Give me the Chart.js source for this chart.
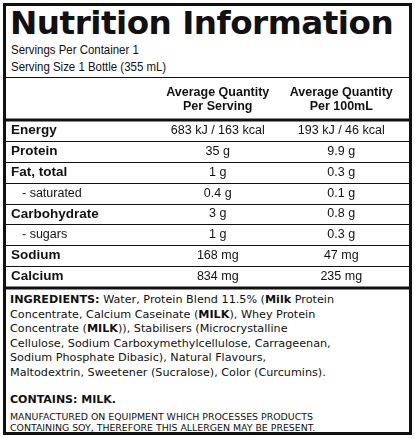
<!DOCTYPE html>
<html><head><meta charset="utf-8">
<script src="https://cdn.jsdelivr.net/npm/chart.js@4"></script>
<style>
body{margin:0;background:#fff;font-family:"Liberation Sans",Arial,sans-serif;color:#111}
#box{position:absolute;left:3px;top:3px;width:403px;height:426px;border:3px solid #111}
#title{position:absolute;left:4px;top:-2px;font:900 32px "DejaVu Sans",sans-serif;letter-spacing:-0.5px;white-space:nowrap;transform:scaleX(1.02);transform-origin:left}
.srv{position:absolute;left:5px;font-size:13px;white-space:nowrap;transform:scaleX(0.88);transform-origin:left}
#hr1{position:absolute;left:0;right:0;top:71px;border-top:1px solid #111}
#cw{position:absolute;left:0;top:72px;width:403px;height:212px}
#ing{position:absolute;left:4px;top:287px;font:11.2px "DejaVu Sans",sans-serif;line-height:14.6px;white-space:nowrap}
#ing b{font-weight:bold}
#cont{position:absolute;left:4px;top:387px;font:bold 11px "DejaVu Sans",sans-serif}
#mfg{position:absolute;left:4px;top:405px;font:9.4px "DejaVu Sans",sans-serif;line-height:11px;white-space:nowrap}
</style></head><body>
<div id="box">
<div id="title">Nutrition Information</div>
<div class="srv" style="top:36px">Servings Per Container 1</div>
<div class="srv" style="top:53px">Serving Size 1 Bottle (355 mL)</div>
<div id="hr1"></div>
<div id="cw"><canvas id="c"></canvas></div>
<div id="ing"><b>INGREDIENTS:</b> Water, Protein Blend 11.5% (<b>Milk</b> Protein<br>Concentrate, Calcium Caseinate (<b>MILK</b>), Whey Protein<br>Concentrate (<b>MILK</b>)), Stabilisers (Microcrystalline<br>Cellulose, Sodium Carboxymethylcellulose, Carrageenan,<br>Sodium Phosphate Dibasic), Natural Flavours,<br>Maltodextrin, Sweetener (Sucralose), Color (Curcumins).</div>
<div id="cont">CONTAINS: MILK.</div>
<div id="mfg">MANUFACTURED ON EQUIPMENT WHICH PROCESSES PRODUCTS<br>CONTAINING SOY, THEREFORE THIS ALLERGEN MAY BE PRESENT.</div>
</div>
<script>
const rows=['Energy','Protein','Fat, total','- saturated','Carbohydrate','- sugars','Sodium','Calcium'];
const subRows=[false,false,false,true,false,true,false,false];
const perServing=['683 kJ / 163 kcal','35 g','1 g','0.4 g','3 g','1 g','168 mg','834 mg'];
const per100=['193 kJ / 46 kcal','9.9 g','0.3 g','0.1 g','0.8 g','0.3 g','47 mg','235 mg'];
const columns=['Per Serving','Per 100mL'];
const colHead='Average Quantity';
const F='"Liberation Sans",Arial,sans-serif';
const tablePlugin={id:'tbl',afterDraw(ch){
  const c=ch.ctx,x=ch.scales.x,y=ch.scales.y,a=ch.chartArea,W=ch.width;
  c.save();c.fillStyle='#111';c.strokeStyle='#111';c.textBaseline='middle';
  c.textAlign='center';c.font='bold 12.5px '+F;
  columns.forEach((l,i)=>{const px=x.getPixelForValue(i);c.fillText(colHead,px,a.top-27);c.fillText(l,px,a.top-13);});
  const step=(a.bottom-a.top)/rows.length;
  rows.forEach((r,i)=>{const py=y.getPixelForValue(i);
    c.textAlign='left';c.font=(subRows[i]?'12.5px ':'bold 13.5px ')+F;
    c.fillText(r,subRows[i]?16:5,py);
    c.textAlign='center';c.font='12.5px '+F;
    c.fillText(perServing[i],x.getPixelForValue(0),py);
    c.fillText(per100[i],x.getPixelForValue(1),py);
    if(i>0){c.lineWidth=1;c.beginPath();c.moveTo(0,Math.round(py-step/2)+0.5);c.lineTo(W,Math.round(py-step/2)+0.5);c.stroke();}
  });
  c.lineWidth=3;c.beginPath();c.moveTo(0,a.top);c.lineTo(W,a.top);c.moveTo(0,a.bottom+1);c.lineTo(W,a.bottom+1);c.stroke();
  c.restore();}};
new Chart(document.getElementById('c'),{type:'line',
 data:{datasets:[{data:[]}]},
 options:{responsive:true,maintainAspectRatio:false,animation:false,
  layout:{padding:{top:42,left:150,right:6,bottom:3}},
  plugins:{legend:{display:false},tooltip:{enabled:false}},
  scales:{x:{type:'category',labels:columns,offset:true,display:false},
          y:{type:'category',labels:rows,offset:true,display:false}}},
 plugins:[tablePlugin]});
</script></body></html>
